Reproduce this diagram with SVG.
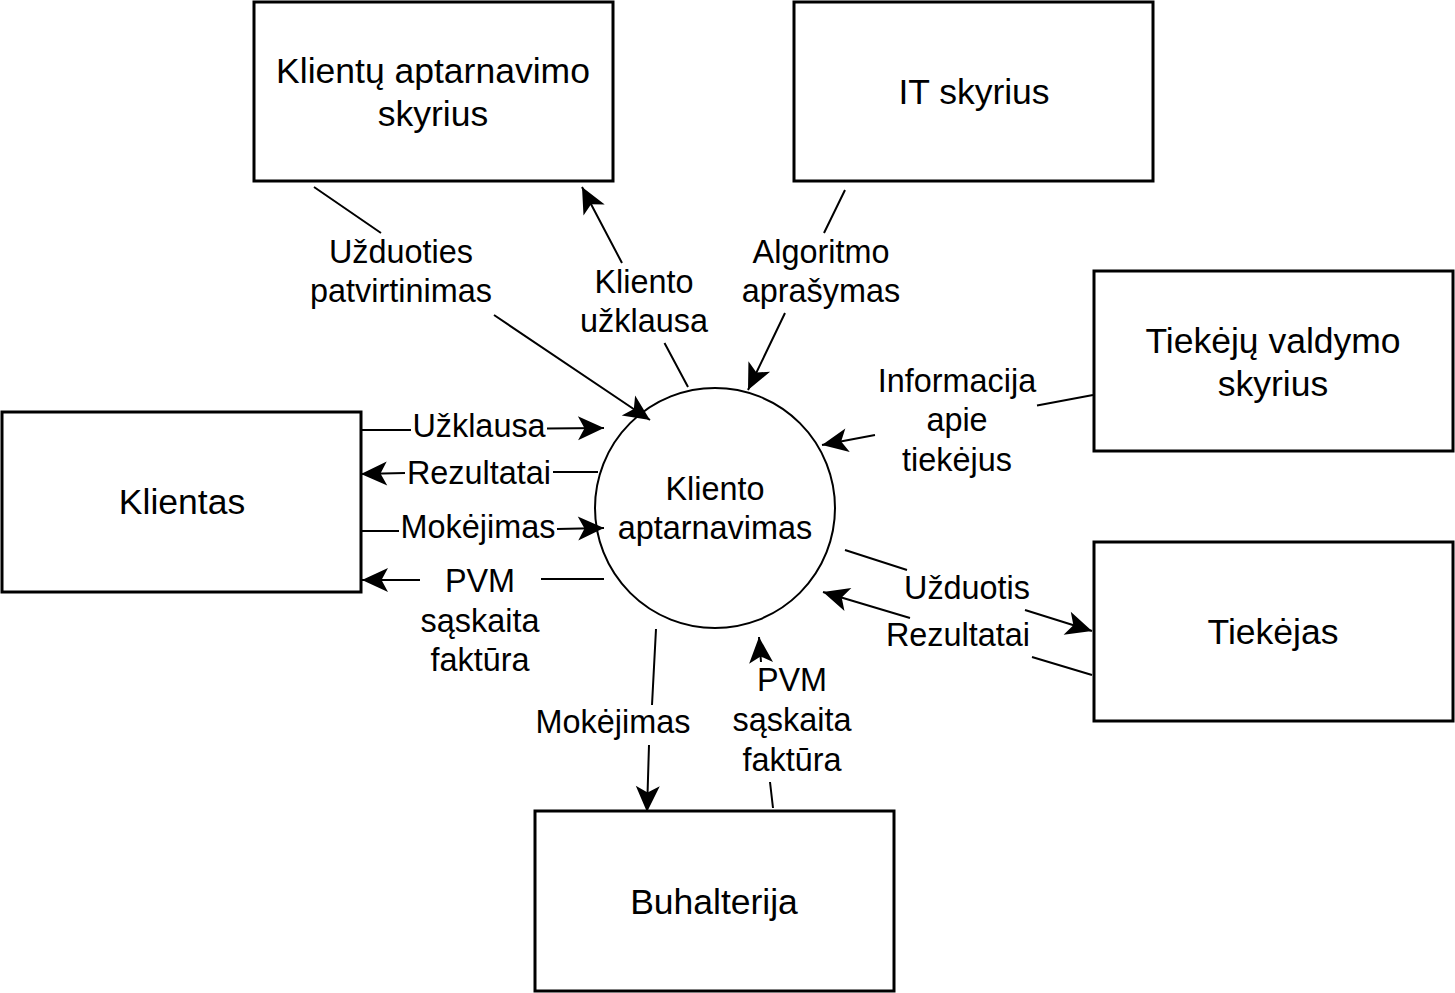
<svg xmlns="http://www.w3.org/2000/svg" width="1455" height="993" viewBox="0 0 1455 993">
<style>
.box{fill:#fff;stroke:#000;stroke-width:3}
.proc{fill:#fff;stroke:#000;stroke-width:2}
.bt{font-family:"Liberation Sans",Arial,Helvetica,sans-serif;font-size:35.5px;text-anchor:middle;fill:#000}
.lt{font-family:"Liberation Sans",Arial,Helvetica,sans-serif;font-size:32.4px;text-anchor:middle;fill:#000}
.con{fill:none;stroke:#000;stroke-width:2;marker-end:url(#arr)}
</style>
<defs>
<marker id="arr" markerUnits="userSpaceOnUse" markerWidth="30" markerHeight="30" refX="26" refY="12.5" orient="auto" viewBox="0 0 30 25" overflow="visible">
<path d="M26,12.5 L0,0.5 L6.5,12.5 L0,24.5 Z" fill="#000"/>
</marker>
</defs>
<rect width="1455" height="993" fill="#fff"/>
<g id="node-klientu-aptarnavimo-skyrius">
<rect class="box" x="254" y="2" width="359" height="179"/>
<text class="bt" x="433" y="83">Klientų aptarnavimo</text>
<text class="bt" x="433" y="126">skyrius</text>
</g>
<g id="node-it-skyrius">
<rect class="box" x="794" y="2" width="359" height="179"/>
<text class="bt" x="974" y="104">IT skyrius</text>
</g>
<g id="node-tiekeju-valdymo-skyrius">
<rect class="box" x="1094" y="271" width="359" height="180"/>
<text class="bt" x="1273" y="353">Tiekėjų valdymo</text>
<text class="bt" x="1273" y="396">skyrius</text>
</g>
<g id="node-klientas">
<rect class="box" x="2" y="412" width="359" height="180"/>
<text class="bt" x="182" y="514">Klientas</text>
</g>
<g id="node-tiekejas">
<rect class="box" x="1094" y="542" width="359" height="179"/>
<text class="bt" x="1273" y="644">Tiekėjas</text>
</g>
<g id="node-buhalterija">
<rect class="box" x="535" y="811" width="359" height="180"/>
<text class="bt" x="714" y="914">Buhalterija</text>
</g>
<g id="node-kliento-aptarnavimas">
<circle class="proc" cx="715" cy="508" r="120"/>
<text class="lt" x="715" y="500">Kliento</text>
<text class="lt" x="715" y="539">aptarnavimas</text>
</g>
<g id="connectors">
<path class="con" d="M314,187 L381,233 M494,315 L650,420"/>
<path class="con" d="M688,387 L664.5,343 M622,263 L582,187"/>
<path class="con" d="M845,190 L824,233 M785,313 L748,390"/>
<path class="con" d="M1093,395 L1037,405.5 M875,435 L822,445"/>
<path class="con" d="M362,430 L411,430 M547,428.5 L604,428"/>
<path class="con" d="M598,472 L553,472 M405,473 L361,474"/>
<path class="con" d="M362,531 L399,531 M557,529 L604,528"/>
<path class="con" d="M604,579 L541,579 M420,580 L362,580"/>
<path class="con" d="M845,550 L907,570 M1025,610 L1092,631"/>
<path class="con" d="M1092,675 L1032,657 M910,618 L823,592"/>
<path class="con" d="M656,629 L652,705 M649,745 L647,812"/>
<path class="con" d="M773,808 L770,782 M761,662 L759,637"/>
<g id="labels">
<text class="lt" x="401" y="263">Užduoties</text>
<text class="lt" x="401" y="302">patvirtinimas</text>
<text class="lt" x="644" y="293">Kliento</text>
<text class="lt" x="644" y="332">užklausa</text>
<text class="lt" x="821" y="263">Algoritmo</text>
<text class="lt" x="821" y="302">aprašymas</text>
<text class="lt" x="957" y="392">Informacija</text>
<text class="lt" x="957" y="431">apie</text>
<text class="lt" x="957" y="471">tiekėjus</text>
<text class="lt" x="479" y="437">Užklausa</text>
<text class="lt" x="479" y="484">Rezultatai</text>
<text class="lt" x="478" y="538">Mokėjimas</text>
<text class="lt" x="480" y="592">PVM</text>
<text class="lt" x="480" y="632">sąskaita</text>
<text class="lt" x="480" y="671">faktūra</text>
<text class="lt" x="967" y="599">Užduotis</text>
<text class="lt" x="958" y="646">Rezultatai</text>
<text class="lt" x="613" y="733">Mokėjimas</text>
<text class="lt" x="792" y="691">PVM</text>
<text class="lt" x="792" y="731">sąskaita</text>
<text class="lt" x="792" y="771">faktūra</text>
</g>
</g>
</svg>
